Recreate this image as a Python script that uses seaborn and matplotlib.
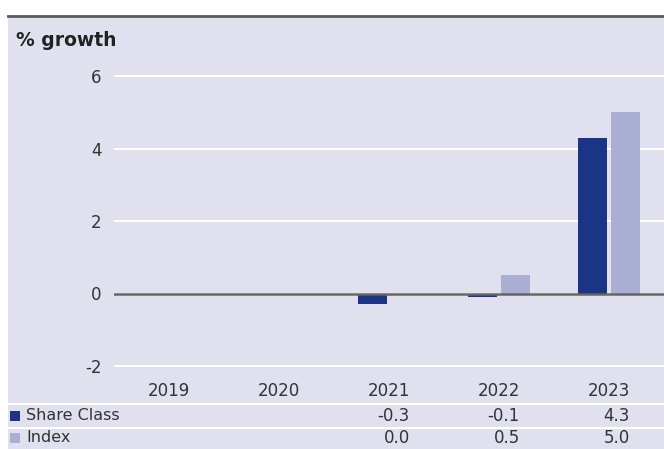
import matplotlib
matplotlib.use("Agg")
import matplotlib.pyplot as plt
import matplotlib.transforms as mtransforms
import numpy as np
import pandas as pd
import seaborn as sns

plt.rcParams["axes.unicode_minus"] = False

# chart data
years = ["2019", "2020", "2021", "2022", "2023"]
series_names = ["Share Class", "Index"]
share_class = [np.nan, np.nan, -0.3, -0.1, 4.3]
index_vals = [np.nan, np.nan, 0.0, 0.5, 5.0]
yticks = [-2, 0, 2, 4, 6]

bg = "#e0e0ee"
dark = "#1b3486"
light = "#aaaed2"
txt = "#333333"

df = pd.DataFrame({
    "year": years * 2,
    "series": [series_names[0]] * len(years) + [series_names[1]] * len(years),
    "value": share_class + index_vals,
})

W, H = 664, 449
fx = lambda px: px / W        # pixel -> figure fraction
fy = lambda py: 1 - py / H

fig = plt.figure(figsize=(W / 100, H / 100), dpi=100)
fig.patch.set_facecolor("white")
fig.add_artist(plt.Rectangle((fx(8), 0), 1 - fx(8), fy(16), transform=fig.transFigure,
                             facecolor=bg, edgecolor="none", zorder=-10))
fig.add_artist(plt.Line2D([fx(8), 1], [fy(16), fy(16)], color="#5a5a5a", lw=2))

ax = fig.add_axes([fx(114), fy(380.5), 1 - fx(114), fy(61.5) - fy(380.5)])
ax.set_facecolor(bg)
sns.barplot(data=df, x="year", y="value", hue="series", order=years, hue_order=series_names,
            palette=[dark, light], saturation=1, width=0.6, gap=0.15, errorbar=None,
            legend=False, ax=ax, zorder=3)

ax.set_xlim(-0.5, 4.5)
ax.set_ylim(-2.4, 6.4)
ax.set_yticks(yticks)
ax.set_xlabel("")
ax.set_ylabel("")
for s in ax.spines.values():
    s.set_visible(False)
ax.yaxis.grid(True, color="white", lw=1.5)
ax.xaxis.grid(False)
ax.set_axisbelow(True)
ax.axhline(0, color="#666666", lw=1.8, zorder=5)
ax.tick_params(axis="both", length=0, labelsize=12, labelcolor=txt)
ax.tick_params(axis="y", pad=9)
ax.tick_params(axis="x", pad=1)

fig.text(fx(16), fy(40), "% growth", fontsize=13.5, fontweight="bold", va="center", color="#222222")

# data table under the chart
trans = mtransforms.blended_transform_factory(ax.transData, fig.transFigure)
rows = [(series_names[0], share_class, dark, 416), (series_names[1], index_vals, light, 438)]
for name, vals, col, ypx in rows:
    fig.add_artist(plt.Rectangle((fx(10), fy(ypx + 5)), fx(10), 10 / H, transform=fig.transFigure,
                                 facecolor=col, edgecolor="none"))
    fig.text(fx(26), fy(ypx), name, fontsize=11.5, va="center", color=txt)
    for i, v in enumerate(vals):
        if not np.isnan(v):
            ax.text(i + 0.19, fy(ypx), f"{v:.1f}", transform=trans, ha="right", va="center",
                    fontsize=12, color=txt, clip_on=False)
for ypx in [404, 428]:
    fig.add_artist(plt.Line2D([fx(8), 1], [fy(ypx), fy(ypx)], color="white", lw=1.5))

fig.savefig("out.png", dpi=100)
